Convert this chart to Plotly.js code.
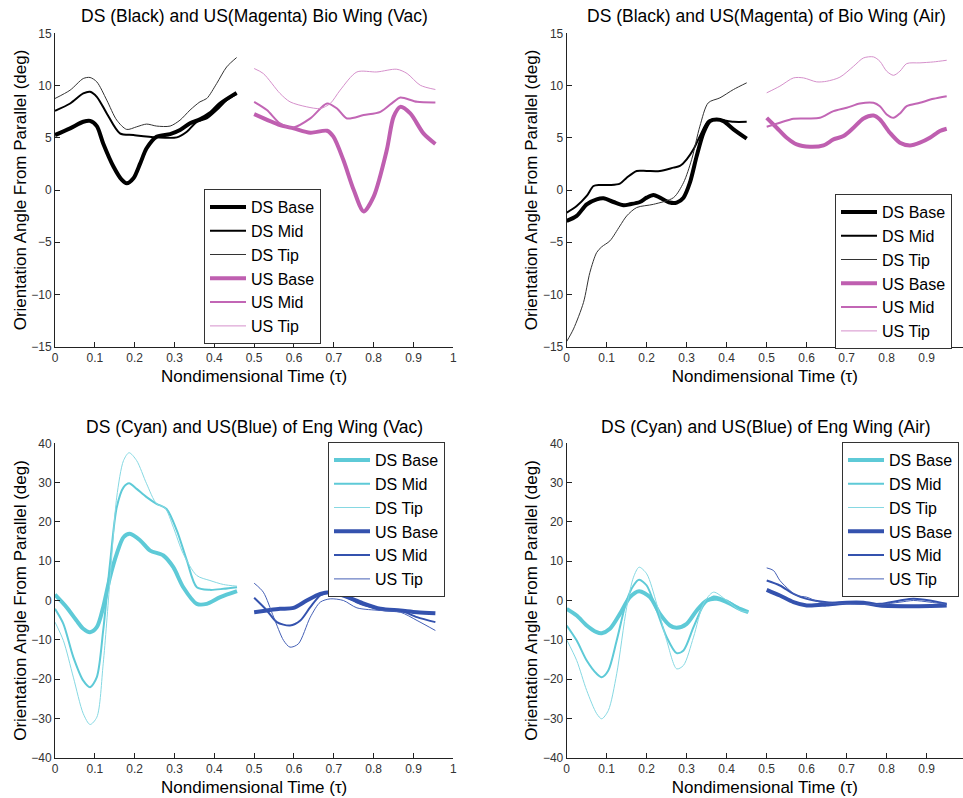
<!DOCTYPE html>
<html>
<head>
<meta charset="utf-8">
<script src="https://cdn.plot.ly/plotly-3.0.1.min.js"></script>
<style>html,body{margin:0;padding:0;overflow:hidden;background:#fff}#chart{width:963px;height:798px}</style>
</head>
<body>
<div id="chart"></div>
<script>
// ---------- Data ----------
const seriesNames = ["DS Base", "DS Mid", "DS Tip", "US Base", "US Mid", "US Tip"];
const panelTitles = [
  "DS (Black) and US(Magenta) Bio Wing (Vac)",
  "DS (Black) and US(Magenta) of Bio Wing (Air)",
  "DS (Cyan) and US(Blue) of Eng Wing (Vac)",
  "DS (Cyan) and US(Blue) of Eng Wing (Air)"
];
const xTickVals = [0, 0.1, 0.2, 0.3, 0.4, 0.5, 0.6, 0.7, 0.8, 0.9, 1];
const yTickValsBio = [-15, -10, -5, 0, 5, 10, 15];
const yTickValsEng = [-40, -30, -20, -10, 0, 10, 20, 30, 40];

// Panel 1: Bio Wing (Vac)
const bioVac_dsBase_t = [0, 0.038, 0.071, 0.088, 0.105, 0.121, 0.147, 0.168, 0.18, 0.197, 0.214, 0.23, 0.255, 0.289, 0.314, 0.339, 0.364, 0.389, 0.415, 0.456];
const bioVac_dsBase_v = [5.26, 5.9, 6.53, 6.62, 6.12, 4.46, 2.23, 0.96, 0.64, 1.12, 2.55, 3.99, 5.1, 5.35, 5.74, 6.38, 6.76, 7.33, 8.28, 9.3];
const bioVac_dsMid_t = [0, 0.038, 0.071, 0.088, 0.105, 0.13, 0.163, 0.197, 0.255, 0.306, 0.331, 0.356, 0.381, 0.406, 0.431, 0.456];
const bioVac_dsMid_v = [7.58, 8.28, 9.24, 9.4, 8.92, 7.33, 5.42, 5.26, 5.04, 5.04, 5.57, 6.53, 6.85, 7.65, 8.6, 9.17];
const bioVac_dsTip_t = [0, 0.038, 0.071, 0.088, 0.105, 0.13, 0.155, 0.18, 0.205, 0.23, 0.255, 0.289, 0.314, 0.339, 0.364, 0.381, 0.406, 0.431, 0.456];
const bioVac_dsTip_v = [8.76, 9.56, 10.67, 10.77, 10.35, 8.6, 6.69, 5.8, 6.05, 6.31, 6.12, 6.12, 6.69, 7.65, 8.44, 8.76, 10.2, 11.78, 12.68];
const bioVac_usBase_t = [0.5, 0.565, 0.599, 0.641, 0.683, 0.699, 0.724, 0.75, 0.775, 0.8, 0.833, 0.85, 0.867, 0.892, 0.925, 0.955];
const bioVac_usBase_v = [7.26, 6.21, 5.9, 5.48, 5.67, 5.1, 2.87, 0.0, -2.05, -0.63, 3.83, 7.0, 7.96, 7.33, 5.42, 4.4];
const bioVac_usMid_t = [0.5, 0.532, 0.565, 0.599, 0.641, 0.683, 0.708, 0.733, 0.775, 0.817, 0.85, 0.867, 0.909, 0.955];
const bioVac_usMid_v = [8.44, 7.65, 6.37, 5.99, 6.85, 8.28, 7.8, 6.85, 7.17, 7.48, 8.44, 8.86, 8.44, 8.38];
const bioVac_usTip_t = [0.5, 0.523, 0.565, 0.59, 0.632, 0.666, 0.691, 0.716, 0.758, 0.808, 0.858, 0.884, 0.917, 0.955];
const bioVac_usTip_v = [11.63, 11.15, 9.24, 8.44, 7.96, 7.8, 8.28, 9.56, 11.3, 11.3, 11.56, 11.15, 10.03, 9.62];

// Panel 2: Bio Wing (Air)
const bioAir_dsBase_t = [0, 0.025, 0.05, 0.075, 0.092, 0.117, 0.142, 0.158, 0.183, 0.2, 0.217, 0.233, 0.258, 0.275, 0.292, 0.308, 0.325, 0.342, 0.358, 0.375, 0.392, 0.417, 0.45];
const bioAir_dsBase_v = [-2.96, -2.48, -1.37, -0.89, -0.79, -1.15, -1.46, -1.37, -1.15, -0.73, -0.48, -0.73, -1.2, -1.2, -0.73, 0.7, 3.25, 5.48, 6.59, 6.75, 6.59, 5.8, 4.91];
const bioAir_dsMid_t = [0, 0.025, 0.05, 0.067, 0.083, 0.108, 0.133, 0.15, 0.175, 0.2, 0.233, 0.267, 0.283, 0.3, 0.317, 0.333, 0.354, 0.375, 0.417, 0.45];
const bioAir_dsMid_v = [-2.16, -1.53, -0.57, 0.38, 0.48, 0.48, 0.61, 1.18, 1.82, 1.82, 1.82, 2.14, 2.3, 2.93, 3.89, 5.16, 6.59, 6.75, 6.53, 6.53];
const bioAir_dsTip_t = [0, 0.017, 0.042, 0.058, 0.075, 0.0875, 0.108, 0.133, 0.15, 0.175, 0.217, 0.267, 0.292, 0.3125, 0.333, 0.354, 0.383, 0.417, 0.45];
const bioAir_dsTip_v = [-14.5, -13.3, -10.76, -7.89, -5.98, -5.44, -4.87, -3.44, -2.48, -1.68, -1.37, -0.73, 0.7, 2.93, 6.11, 8.35, 8.82, 9.62, 10.26];
const bioAir_usBase_t = [0.5, 0.525, 0.55, 0.575, 0.608, 0.642, 0.667, 0.692, 0.717, 0.742, 0.767, 0.783, 0.808, 0.833, 0.858, 0.883, 0.908, 0.933, 0.95];
const bioAir_usBase_v = [6.91, 5.96, 5.0, 4.36, 4.14, 4.27, 4.84, 5.16, 5.96, 6.85, 7.13, 6.75, 5.48, 4.53, 4.27, 4.53, 5.0, 5.64, 5.86];
const bioAir_usMid_t = [0.5, 0.533, 0.567, 0.6, 0.633, 0.667, 0.7, 0.733, 0.767, 0.783, 0.8, 0.817, 0.833, 0.85, 0.883, 0.917, 0.95];
const bioAir_usMid_v = [6.05, 6.44, 6.82, 6.85, 6.91, 7.55, 7.87, 8.28, 8.35, 8.02, 7.23, 6.91, 7.33, 8.02, 8.35, 8.73, 8.98];
const bioAir_usTip_t = [0.5, 0.533, 0.567, 0.592, 0.625, 0.65, 0.683, 0.717, 0.742, 0.767, 0.783, 0.8, 0.817, 0.833, 0.85, 0.883, 0.917, 0.95];
const bioAir_usTip_v = [9.3, 9.94, 10.73, 10.73, 10.35, 10.41, 10.8, 11.84, 12.64, 12.74, 12.32, 11.37, 10.98, 11.37, 12.1, 12.17, 12.26, 12.42];

// Panel 3: Eng Wing (Vac)
const engVac_dsBase_t = [0, 0.029, 0.054, 0.071, 0.088, 0.105, 0.121, 0.138, 0.155, 0.172, 0.188, 0.214, 0.239, 0.272, 0.297, 0.322, 0.356, 0.381, 0.415, 0.457];
const engVac_dsBase_v = [1.5, -1.7, -5.09, -7.2, -8.07, -6.79, -1.7, 5.93, 11.88, 16.1, 16.97, 15.27, 12.7, 11.45, 8.47, 3.38, -0.85, -0.85, 0.85, 2.37];
const engVac_dsMid_t = [0, 0.021, 0.046, 0.071, 0.088, 0.105, 0.121, 0.138, 0.155, 0.172, 0.186, 0.205, 0.23, 0.255, 0.28, 0.306, 0.331, 0.356, 0.389, 0.423, 0.457];
const engVac_dsMid_v = [-2.12, -5.94, -14.4, -20.4, -22.06, -19.5, -7.63, 9.33, 23.7, 28.8, 29.85, 28.4, 26.3, 24.6, 23.3, 17.8, 10.2, 3.38, 2.71, 2.97, 3.38];
const engVac_dsTip_t = [0, 0.021, 0.046, 0.071, 0.088, 0.105, 0.121, 0.138, 0.155, 0.172, 0.186, 0.205, 0.23, 0.255, 0.276, 0.297, 0.322, 0.356, 0.389, 0.423, 0.457];
const engVac_dsTip_v = [-5.51, -10.18, -19.5, -28.8, -31.55, -29.7, -16.1, 5.09, 26.3, 35.6, 37.6, 35.6, 29.7, 24.6, 23.6, 18.65, 11.9, 6.36, 5.09, 4.07, 3.64];
const engVac_usBase_t = [0.5, 0.532, 0.565, 0.599, 0.632, 0.666, 0.691, 0.724, 0.766, 0.817, 0.867, 0.909, 0.955];
const engVac_usBase_v = [-2.97, -2.54, -2.12, -1.87, 0, 1.7, 2.12, 1.27, -0.42, -2.12, -2.54, -2.97, -3.22];
const engVac_usMid_t = [0.5, 0.532, 0.557, 0.59, 0.616, 0.641, 0.666, 0.691, 0.724, 0.766, 0.817, 0.867, 0.909, 0.955];
const engVac_usMid_v = [0.68, -2.54, -5.51, -6.36, -5.09, -1.7, 1.27, 2.12, 1.27, -0.85, -2.12, -2.54, -4.24, -5.51];
const engVac_usTip_t = [0.5, 0.523, 0.549, 0.574, 0.59, 0.611, 0.641, 0.666, 0.691, 0.724, 0.758, 0.817, 0.867, 0.909, 0.955];
const engVac_usTip_v = [4.41, 2.12, -4.24, -10.18, -11.87, -11.03, -4.24, -0.42, 0.42, 0, -1.87, -2.54, -2.97, -5.09, -7.63];

// Panel 4: Eng Wing (Air)
const engAir_dsBase_t = [0, 0.025, 0.05, 0.075, 0.0875, 0.108, 0.133, 0.158, 0.181, 0.208, 0.233, 0.258, 0.275, 0.3, 0.325, 0.35, 0.375, 0.4, 0.433, 0.454];
const engAir_dsBase_v = [-2.12, -3.82, -6.36, -8.06, -8.31, -7.2, -3.4, 0.85, 2.38, 0.85, -3.4, -6.36, -6.96, -5.94, -2.54, 0, 0.42, -0.42, -2.12, -2.97];
const engAir_dsMid_t = [0, 0.025, 0.05, 0.075, 0.0875, 0.104, 0.125, 0.15, 0.167, 0.181, 0.2, 0.225, 0.25, 0.275, 0.292, 0.317, 0.342, 0.367, 0.4, 0.433, 0.454];
const engAir_dsMid_v = [-6.36, -10.18, -15.27, -18.65, -19.5, -17.8, -10.18, 0, 3.82, 5.26, 3.82, -2.54, -9.33, -13.4, -12.72, -6.79, -1.27, 1.02, 0, -2.12, -2.97];
const engAir_dsTip_t = [0, 0.025, 0.05, 0.075, 0.0875, 0.104, 0.125, 0.15, 0.167, 0.181, 0.2, 0.225, 0.25, 0.275, 0.292, 0.317, 0.342, 0.367, 0.4, 0.433, 0.454];
const engAir_dsTip_v = [-10.0, -15.27, -22.9, -28.8, -30.1, -28.0, -18.65, -1.7, 5.93, 8.47, 6.79, -0.85, -10.18, -17.4, -16.5, -9.33, -0.85, 2.12, 0, -2.54, -2.97];
const engAir_usBase_t = [0.5, 0.533, 0.567, 0.6, 0.65, 0.7, 0.742, 0.783, 0.867, 0.95];
const engAir_usBase_v = [2.72, 1.27, -0.42, -1.27, -1.02, -0.59, -0.59, -1.27, -1.44, -1.27];
const engAir_usMid_t = [0.5, 0.533, 0.567, 0.6, 0.65, 0.7, 0.783, 0.833, 0.867, 0.908, 0.95];
const engAir_usMid_v = [5.09, 3.82, 1.7, 0.42, -0.42, -0.59, -0.85, 0, 0.42, 0, -0.85];
const engAir_usTip_t = [0.5, 0.517, 0.533, 0.558, 0.575, 0.6, 0.633, 0.7, 0.783, 0.833, 0.867, 0.908, 0.95];
const engAir_usTip_v = [8.3, 7.63, 5.09, 2.54, 1.27, 0.85, -0.42, -0.85, -1.02, -0.42, 0, -0.42, -1.02];

// ---------- Styling ----------
const FONT = "Liberation Sans, Arial, sans-serif";
const widths = [4, 2, 1];
const bioDS = ["#000000", "#000000", "#333333"];
const bioUS = ["#bf5fb0", "#c266b5", "#d590cb"];
const engDS = ["#5ecad7", "#5ecad7", "#86d8e2"];
const engUS = ["#3452ae", "#3452ae", "#4560b6"];

const panels = [
  {xa: "x", ya: "y", leg: "legend", ds: bioDS, us: bioUS, data: [
    [bioVac_dsBase_t, bioVac_dsBase_v], [bioVac_dsMid_t, bioVac_dsMid_v], [bioVac_dsTip_t, bioVac_dsTip_v],
    [bioVac_usBase_t, bioVac_usBase_v], [bioVac_usMid_t, bioVac_usMid_v], [bioVac_usTip_t, bioVac_usTip_v]]},
  {xa: "x2", ya: "y2", leg: "legend2", ds: bioDS, us: bioUS, data: [
    [bioAir_dsBase_t, bioAir_dsBase_v], [bioAir_dsMid_t, bioAir_dsMid_v], [bioAir_dsTip_t, bioAir_dsTip_v],
    [bioAir_usBase_t, bioAir_usBase_v], [bioAir_usMid_t, bioAir_usMid_v], [bioAir_usTip_t, bioAir_usTip_v]]},
  {xa: "x3", ya: "y3", leg: "legend3", ds: engDS, us: engUS, data: [
    [engVac_dsBase_t, engVac_dsBase_v], [engVac_dsMid_t, engVac_dsMid_v], [engVac_dsTip_t, engVac_dsTip_v],
    [engVac_usBase_t, engVac_usBase_v], [engVac_usMid_t, engVac_usMid_v], [engVac_usTip_t, engVac_usTip_v]]},
  {xa: "x4", ya: "y4", leg: "legend4", ds: engDS, us: engUS, data: [
    [engAir_dsBase_t, engAir_dsBase_v], [engAir_dsMid_t, engAir_dsMid_v], [engAir_dsTip_t, engAir_dsTip_v],
    [engAir_usBase_t, engAir_usBase_v], [engAir_usMid_t, engAir_usMid_v], [engAir_usTip_t, engAir_usTip_v]]}
];

const traces = [];
panels.forEach(p => {
  p.data.forEach((d, i) => {
    const isUS = i >= 3;
    const k = i % 3;
    traces.push({
      type: "scatter", mode: "lines",
      x: d[0], y: d[1], name: seriesNames[i],
      xaxis: p.xa, yaxis: p.ya, legend: p.leg,
      line: {color: isUS ? p.us[k] : p.ds[k], width: widths[k], shape: "spline", smoothing: 0.8},
      hoverinfo: "skip"
    });
  });
});

const W = 963, H = 798;
const px = v => v / W, py = v => 1 - v / H;

function xaxis(dom, range, anchor) {
  return {
    domain: dom, range: range, anchor: anchor, tickvals: xTickVals, ticktext: xTickVals.map(String),
    showline: true, linecolor: "#222", linewidth: 1, ticks: "inside", ticklen: 5, tickcolor: "#222",
    showgrid: false, zeroline: false, mirror: false,
    tickfont: {family: FONT, size: 12, color: "#333"},
    title: {text: "Nondimensional Time (τ)", font: {family: FONT, size: 17, color: "#000"}, standoff: 6}
  };
}
function yaxis(dom, range, tv, anchor) {
  return {
    domain: dom, range: range, anchor: anchor, tickvals: tv,
    showline: true, linecolor: "#222", linewidth: 1, ticks: "inside", ticklen: 5, tickcolor: "#222",
    showgrid: false, zeroline: false, mirror: false,
    tickfont: {family: FONT, size: 12, color: "#333"},
    title: {text: "Orientation Angle From Parallel (deg)", font: {family: FONT, size: 17, color: "#000"}, standoff: 0}
  };
}
function legend(x, y) {
  return {
    x: x, y: y, xanchor: "left", yanchor: "top", xref: "paper", yref: "paper",
    bgcolor: "#fff", bordercolor: "#333", borderwidth: 1,
    font: {family: FONT, size: 16, color: "#000"},
    itemwidth: 36, tracegroupgap: 0
  };
}

const rightEnd = (W - 566.7) / 400;
const titleFont = {family: FONT, size: 17.5, color: "#000"};
const layout = {
  width: W, height: H,
  margin: {l: 0, r: 0, t: 0, b: 0},
  paper_bgcolor: "#fff", plot_bgcolor: "#fff",
  showlegend: true,
  xaxis: xaxis([px(55), px(453.3)], [0, 1], "y"),
  yaxis: yaxis([py(346.7), py(33.3)], [-15, 15], yTickValsBio, "x"),
  xaxis2: xaxis([px(566.7), 1], [0, rightEnd], "y2"),
  yaxis2: yaxis([py(346.7), py(33.3)], [-15, 15], yTickValsBio, "x2"),
  xaxis3: xaxis([px(55), px(453.3)], [0, 1], "y3"),
  yaxis3: yaxis([py(757.7), py(443.3)], [-40, 40], yTickValsEng, "x3"),
  xaxis4: xaxis([px(566.7), 1], [0, rightEnd], "y4"),
  yaxis4: yaxis([py(757.7), py(443.3)], [-40, 40], yTickValsEng, "x4"),
  legend: legend(px(204), py(189)),
  legend2: legend(px(835), py(194)),
  legend3: legend(px(328), py(442)),
  legend4: legend(px(842), py(442)),
  annotations: [
    {text: panelTitles[0], x: px(254), y: py(16), xref: "paper", yref: "paper", showarrow: false, xanchor: "center", yanchor: "middle", font: titleFont},
    {text: panelTitles[1], x: px(766), y: py(16), xref: "paper", yref: "paper", showarrow: false, xanchor: "center", yanchor: "middle", font: titleFont},
    {text: panelTitles[2], x: px(254), y: py(427), xref: "paper", yref: "paper", showarrow: false, xanchor: "center", yanchor: "middle", font: titleFont},
    {text: panelTitles[3], x: px(766), y: py(427), xref: "paper", yref: "paper", showarrow: false, xanchor: "center", yanchor: "middle", font: titleFont}
  ]
};

Plotly.newPlot("chart", traces, layout, {displayModeBar: false, staticPlot: true});
</script>
</body>
</html>
